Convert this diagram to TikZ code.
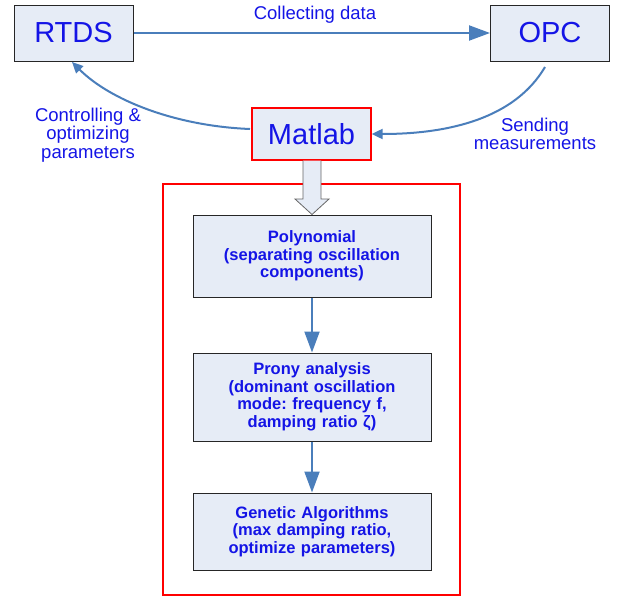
\documentclass[tikz,border=0pt]{standalone}
\usepackage{fontspec}
\setmainfont{Liberation Sans}
\usetikzlibrary{arrows.meta}
\frenchspacing
\definecolor{boxfill}{HTML}{E6ECF6}
\definecolor{arrblue}{HTML}{4A7EBB}
\definecolor{txtblue}{HTML}{1414E6}
\tikzset{
  topbox/.style={draw=black!85, line width=1pt, fill=boxfill, minimum width=119pt, minimum height=56pt, font=\fontsize{29}{32}\selectfont, text=txtblue, inner sep=0pt},
  flowbox/.style={draw=black!85, line width=1pt, fill=boxfill, minimum width=238pt, text width=236pt, align=center, font=\fontsize{16.5}{17.5}\selectfont\bfseries, text=txtblue, inner sep=0pt},
  conn/.style={draw=arrblue, line width=2pt, -{Triangle[length=21pt,width=15pt]}},
  curved/.style={draw=arrblue, line width=2pt, -{Triangle[length=11pt,width=10pt]}},
  lbl/.style={text=txtblue, font=\fontsize{18.5}{18.7}\selectfont, align=center, inner sep=0pt}
}
\begin{document}
\begin{tikzpicture}[x=1pt,y=-1pt]
\useasboundingbox (0,0) rectangle (618,597);
\node[topbox] (rtds) at (73.5,33) {RTDS};
\node[topbox] (opc) at (550,33) {OPC};
\node[topbox, draw=red, line width=1.3pt, minimum height=52pt] (matlab) at (311.5,134) {Matlab};
\node[lbl] (collect) at (315,15) {Collecting data};
\node[lbl] (ctrl) at (88,135) {Controlling \&\\optimizing\\parameters};
\node[lbl] (send) at (535,134) {Sending\\measurements};
% red frame
\node[draw=red, line width=1.3pt, minimum width=297pt, minimum height=411pt, inner sep=0pt] (frame) at (311.5,389.5) {};
% flow boxes
\node[flowbox, minimum height=82pt] (poly) at (312,256) {Polynomial\\(separating oscillation\\components)};
\node[flowbox, minimum height=88pt] (prony) at (312,397) {Prony analysis\\(dominant oscillation\\mode: frequency f,\\damping ratio ζ)};
\node[flowbox, minimum height=77pt] (ga) at (312,531.5) {Genetic Algorithms\\(max damping ratio,\\optimize parameters)};
% connectors
\draw[conn] (rtds.east) -- (opc.west);
\coordinate (opcout) at (545,67);
\draw[curved] (opcout) .. controls (515,118) and (450,134) .. (matlab.east);
\coordinate (matout) at (250,129);
\draw[curved] (matout) .. controls (175,126) and (110,100) .. (72,62);
\draw[conn] (poly.south) -- (prony.north);
\draw[conn] (prony.south) -- (ga.north);
% hollow block arrow
\draw[draw=black!60, line width=0.8pt, fill=boxfill] (matlab.south -| 303,0) -- (303,199) -- (295,199) -- (poly.north) -- (329,199) -- (321,199) -- (matlab.south -| 321,0);
\end{tikzpicture}
\end{document}
